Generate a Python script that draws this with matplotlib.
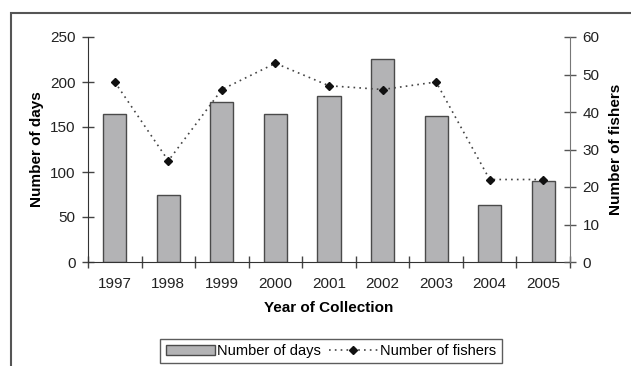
import matplotlib
matplotlib.use("Agg")
import matplotlib.pyplot as plt
from matplotlib.patches import Rectangle
from matplotlib.lines import Line2D
from matplotlib.patches import Patch

years = ["1997", "1998", "1999", "2000", "2001", "2002", "2003", "2004", "2005"]
days = [164, 75, 178, 165, 185, 226, 162, 63, 90]
fishers = [48, 27, 46, 53, 47, 46, 48, 22, 22]

plt.rcParams['font.family'] = ['Liberation Sans', 'DejaVu Sans']
plt.rcParams['font.size'] = 11

fig = plt.figure(figsize=(6.31, 3.66), dpi=100)
ax = fig.add_axes([88/631, 1-262/366, (570-88)/631, (262-37)/366])

x = list(range(len(years)))
ax.bar(x, days, width=0.43, color='#b3b3b5', edgecolor='#4a4a4a', linewidth=1.0, zorder=2)
ax.set_xlim(-0.5, len(years)-0.5)
ax.set_ylim(0, 250)
ax.set_yticks([0, 50, 100, 150, 200, 250])

ax.set_xticks([i - 0.5 for i in range(len(years)+1)])
ax.set_xticklabels([])
ax.set_xticks(x, minor=True)
ax.set_xticklabels(years, minor=True)
ax.tick_params(axis='x', which='minor', length=0, pad=11, labelsize=11, colors='#222222')
ax.tick_params(axis='x', which='major', direction='inout', length=8, width=1, color='#444444')
ax.tick_params(axis='y', direction='inout', length=8, width=1, color='#444444', labelsize=11, labelcolor='#222222', pad=5)

for s in ['top', 'right']:
    ax.spines[s].set_visible(False)
ax.spines['left'].set_color('#333333')
ax.spines['bottom'].set_color('#333333')

ax.set_ylabel("Number of days", fontweight='bold', fontsize=11, labelpad=4)
ax.set_xlabel("Year of Collection", fontweight='bold', fontsize=11, labelpad=7)

ax2 = ax.twinx()
ax2.plot(x, fishers, linestyle=(0, (1, 2.5)), color='#444444', linewidth=1.2,
         marker='D', markersize=4.5, markerfacecolor='#111111', markeredgecolor='#111111', zorder=3)
ax2.set_ylim(0, 60)
ax2.set_yticks([0, 10, 20, 30, 40, 50, 60])
for s in ['top', 'left', 'bottom']:
    ax2.spines[s].set_visible(False)
ax2.spines['right'].set_color('#777777')
ax2.tick_params(axis='y', direction='inout', length=8, width=1, color='#555555', labelsize=11, labelcolor='#222222', pad=5)
ax2.set_ylabel("Number of fishers", fontweight='bold', fontsize=11, labelpad=7)

# Outer frame (cut off at right and bottom as in reference)
fig.patches.append(Rectangle((11/631, -0.1), 1.2, (366-13)/366 + 0.1,
                             transform=fig.transFigure, fill=False,
                             edgecolor='#555555', linewidth=1.5))

handles = [Patch(facecolor='#b3b3b5', edgecolor='#4a4a4a', linewidth=1.0),
           Line2D([0], [0], linestyle=(0, (1, 2.5)), color='#444444', linewidth=1.2,
                  marker='D', markersize=4.5, markerfacecolor='#111111', markeredgecolor='#111111')]
leg = fig.legend(handles, ["Number of days", "Number of fishers"], loc='center',
                 bbox_to_anchor=(331/631, 1-351/366), ncol=2, frameon=True,
                 fancybox=False, edgecolor='#333333', fontsize=10.5,
                 handlelength=3.4, handleheight=0.7, handletextpad=0.15, columnspacing=0.5,
                 borderpad=0.35, borderaxespad=0)
leg.get_frame().set_linewidth(1.0)

fig.savefig("out.png", dpi=100)
